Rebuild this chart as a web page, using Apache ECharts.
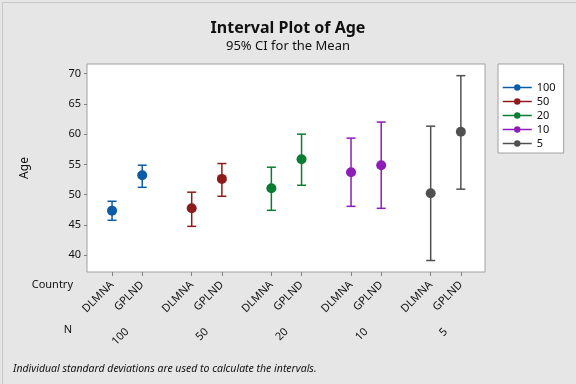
<!DOCTYPE html>
<html><head><meta charset="utf-8">
<script src="https://cdn.jsdelivr.net/npm/echarts@6/dist/echarts.min.js"></script>
<style>html,body{margin:0;padding:0;background:#e6e6e6}#c{width:576px;height:384px}</style>
</head><body><div id="c"></div>
<script>
const countries = ['DLMNA', 'GPLND'];
const nLevels = ['100', '50', '20', '10', '5'];
const means  = [[47.35, 53.2], [47.73, 52.6], [51.05, 55.85], [53.7, 54.86], [50.22, 60.4]];
const lowers = [[45.75, 51.2], [44.75, 49.72], [47.4, 51.54], [48.06, 47.73], [39.1, 50.9]];
const uppers = [[48.9, 54.86], [50.4, 55.14], [54.53, 60.0], [59.34, 62.0], [61.32, 69.67]];
const yTicks = [40, 45, 50, 55, 60, 65, 70];
const colors = ['#0B5CA8', '#8E1B1B', '#0A7D32', '#8E1CB8', '#505050'];

const FONT = 'Noto Sans';
const groupPitch = 2.64;
const pos = (g, c) => g * groupPitch + c;
const countryTickPos = [], countryTickName = {};
nLevels.forEach((n, g) => countries.forEach((c, ci) => {
  const p = pos(g, ci); countryTickPos.push(p); countryTickName[p.toFixed(3)] = c;
}));
const groupPos = [], groupName = {};
nLevels.forEach((n, g) => { const p = pos(g, 0.5); groupPos.push(p); groupName[p.toFixed(3)] = n; });
const xMin = -0.83, xMax = pos(nLevels.length - 1, 1) + 0.8;

const series = [];
nLevels.forEach((n, g) => {
  series.push({
    name: n, type: 'line', xAxisIndex: 0,
    data: countries.map((c, ci) => [pos(g, ci), means[g][ci]]),
    symbol: 'circle', symbolSize: 10,
    lineStyle: { width: 0, opacity: 0 },
    itemStyle: { color: colors[g] },
    z: 5
  });
  series.push({
    name: n, type: 'custom', xAxisIndex: 0,
    data: countries.map((c, ci) => [pos(g, ci), lowers[g][ci], uppers[g][ci]]),
    renderItem: function (params, api) {
      const lo = api.coord([api.value(0), api.value(1)]);
      const hi = api.coord([api.value(0), api.value(2)]);
      const w = 4.5;
      const st = { stroke: colors[g], lineWidth: 1.5 };
      return { type: 'group', children: [
        { type: 'line', shape: { x1: lo[0], y1: lo[1], x2: hi[0], y2: hi[1] }, style: st },
        { type: 'line', shape: { x1: lo[0] - w, y1: lo[1], x2: lo[0] + w, y2: lo[1] }, style: st },
        { type: 'line', shape: { x1: hi[0] - w, y1: hi[1], x2: hi[0] + w, y2: hi[1] }, style: st }
      ]};
    },
    z: 3
  });
});

const chart = echarts.init(document.getElementById('c'));
chart.setOption({
  backgroundColor: '#e6e6e6',
  animation: false,
  textStyle: { fontFamily: FONT },
  title: {
    text: 'Interval Plot of Age', subtext: '95% CI for the Mean', left: 'center', top: 15, itemGap: 4,
    textStyle: { fontFamily: FONT, fontSize: 16, fontWeight: 'bold', color: '#111' },
    subtextStyle: { fontFamily: FONT, fontSize: 13, color: '#111' }
  },
  grid: { left: 87, top: 64, width: 398, height: 208, show: true, backgroundColor: '#fff', borderColor: '#a0a0a0', borderWidth: 1 },
  legend: {
    orient: 'vertical', left: 498, top: 64, width: 64,
    data: nLevels,
    backgroundColor: '#fff', borderColor: '#a0a0a0', borderWidth: 1,
    padding: [17, 8, 3, 4], itemGap: 1, itemWidth: 29, itemHeight: 8,
    lineStyle: { width: 1.5, opacity: 1 },
    textStyle: { fontFamily: FONT, fontSize: 11, color: '#111', lineHeight: 13 }
  },
  xAxis: [{
    type: 'value', min: xMin, max: xMax, position: 'bottom',
    axisLine: { show: false, onZero: false }, splitLine: { show: false },
    axisTick: { show: true, length: 4, customValues: countryTickPos, lineStyle: { color: '#808080' } },
    axisLabel: { customValues: countryTickPos, rotate: 45, margin: 11, fontSize: 11, color: '#111', fontFamily: FONT,
      formatter: v => countryTickName[v.toFixed(3)] || '' }
  }, {
    type: 'value', min: xMin, max: xMax, position: 'bottom', offset: 54,
    axisLine: { show: false, onZero: false }, splitLine: { show: false }, axisTick: { show: false },
    axisLabel: { customValues: groupPos, rotate: 45, margin: 4, fontSize: 11, color: '#111', fontFamily: FONT,
      formatter: v => groupName[v.toFixed(3)] || '' }
  }],
  yAxis: {
    type: 'value', min: 37.2, max: 71.6, position: 'left',
    name: 'Age', nameLocation: 'middle', nameGap: 56, nameRotate: 90,
    nameTextStyle: { fontSize: 12, color: '#111', fontFamily: FONT },
    axisLine: { show: false, onZero: false }, splitLine: { show: false },
    axisTick: { show: true, length: 3, customValues: yTicks, lineStyle: { color: '#808080' } },
    axisLabel: { customValues: yTicks, margin: 6, fontSize: 11, color: '#111', fontFamily: FONT }
  },
  graphic: [
    { type: 'rect', left: 0, top: 0, shape: { width: 575, height: 383 }, style: { fill: 'none', stroke: '#c8c8c8', lineWidth: 1 }, silent: true },
    { type: 'text', left: 538, top: 67, style: { text: 'N', fontFamily: FONT, fontSize: 11, fill: '#111' } },
    { type: 'text', right: 503, top: 279, style: { text: 'Country', fontFamily: FONT, fontSize: 11, fill: '#111' } },
    { type: 'text', right: 504, top: 324, style: { text: 'N', fontFamily: FONT, fontSize: 11, fill: '#111' } },
    { type: 'text', left: 13, top: 364, style: { text: 'Individual standard deviations are used to calculate the intervals.', fontFamily: FONT, fontSize: 10.5, fontStyle: 'italic', fill: '#111' } }
  ],
  series: series
});
</script></body></html>
